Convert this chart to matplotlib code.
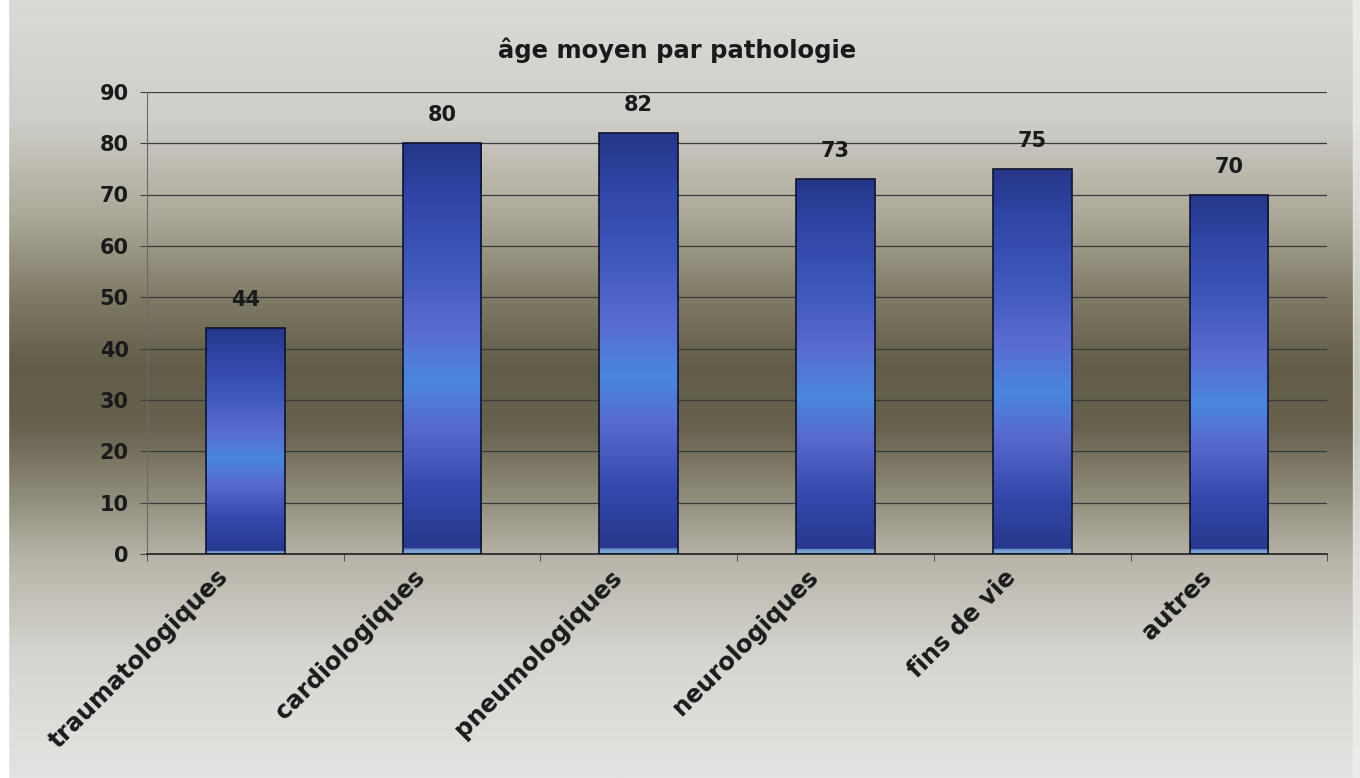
import matplotlib.pyplot as plt
import numpy as np
from matplotlib.colors import LinearSegmentedColormap
from matplotlib.transforms import ScaledTranslation
from matplotlib.patches import Rectangle

plt.rcParams['font.family'] = ['DejaVu Sans']
plt.rcParams['font.weight'] = 'bold'

# donnees
pathologies = ['traumatologiques', 'cardiologiques', 'pneumologiques',
               'neurologiques', 'fins de vie', 'autres']
age_moyen = [44, 80, 82, 73, 75, 70]
yticks = [0, 10, 20, 30, 40, 50, 60, 70, 80, 90]

fig = plt.figure(figsize=(13.6, 7.78), dpi=100)

# fond degrade (clair en haut, olive fonce au milieu, clair en bas)
bg = fig.add_axes([0, 0, 1, 1], zorder=-10)
bg_cmap = LinearSegmentedColormap.from_list('bg', [
    (0.00, '#dadad6'),
    (0.15, '#cfcec9'),
    (0.28, '#aba798'),
    (0.38, '#807b66'),
    (0.47, '#625d49'),
    (0.55, '#67624e'),
    (0.63, '#8c8876'),
    (0.72, '#b8b4a9'),
    (0.85, '#d6d6d1'),
    (1.00, '#e3e3e1'),
])
grad = np.linspace(0, 1, 400).reshape(-1, 1)
bg.imshow(grad, cmap=bg_cmap, aspect='auto', extent=(0, 1, 0, 1), origin='upper')
# bords du scan
bg.add_patch(Rectangle((0, 0), 0.006, 1, color='white', zorder=5))
bg.add_patch(Rectangle((0.995, 0), 0.005, 1, color='#f0f0ee', alpha=0.7, zorder=5))
bg.set_xlim(0, 1)
bg.set_ylim(0, 1)
bg.set_axis_off()

ax = fig.add_axes([0.108, 0.288, 0.868, 0.594])
ax.patch.set_alpha(0)

x = np.arange(len(pathologies))
bars = ax.bar(x, age_moyen, width=0.4, color='none', edgecolor='#0e1430',
              linewidth=1.2, zorder=3)

bar_cmap = LinearSegmentedColormap.from_list('bar', [
    (0.000, '#26378a'),
    (0.120, '#2f45a4'),
    (0.300, '#3e58bc'),
    (0.450, '#5a6bd0'),
    (0.580, '#4a86dc'),
    (0.700, '#5868cc'),
    (0.850, '#3348aa'),
    (0.988, '#28388e'),
    (0.993, '#7aa6d6'),
    (1.000, '#7aa6d6'),
])
for b in bars:
    x0, w, h = b.get_x(), b.get_width(), b.get_height()
    im = ax.imshow(np.linspace(0, 1, 600).reshape(-1, 1), cmap=bar_cmap,
                   aspect='auto', extent=(x0, x0 + w, 0, h), origin='upper',
                   zorder=2)
    im.set_clip_path(b)
    ax.text(x0 + w / 2, h + 3.5, f'{h:.0f}', ha='center', va='bottom',
            fontsize=15, fontweight='bold', color='#1a1a1a')

ax.set_xlim(-0.5, len(pathologies) - 0.5)
ax.set_ylim(0, 90)
ax.set_yticks(yticks)
ax.set_yticklabels([str(v) for v in yticks], fontsize=15, fontweight='bold',
                   color='#1a1a1a')
ax.set_xticks(x)
ax.set_xticklabels(pathologies, rotation=45, ha='right', va='top',
                   rotation_mode='anchor', fontsize=17.5, fontweight='bold',
                   color='#1a1a1a')
ax.tick_params(axis='x', length=0, pad=8)
shift = ScaledTranslation(-0.29, 0, fig.dpi_scale_trans)
for lab in ax.get_xticklabels():
    lab.set_transform(lab.get_transform() + shift)
ax.set_xticks(np.arange(-0.5, len(pathologies), 1), minor=True)
ax.tick_params(axis='x', which='minor', length=5, color='#404040')
ax.tick_params(axis='y', length=5, color='#404040', pad=8)

ax.yaxis.grid(True, color='#3a3a3a', linewidth=0.9, zorder=1)
ax.set_axisbelow(True)
for s in ['top', 'right']:
    ax.spines[s].set_visible(False)
ax.spines['left'].set_color('#6a6a6a')
ax.spines['left'].set_linewidth(0.8)
ax.spines['bottom'].set_color('#202020')
ax.spines['bottom'].set_linewidth(1.2)

fig.text(0.498, 0.936, 'âge moyen par pathologie', ha='center', va='center',
         fontsize=17.5, fontweight='bold', color='#1a1a1a')

fig.savefig('out.png', dpi=100)
